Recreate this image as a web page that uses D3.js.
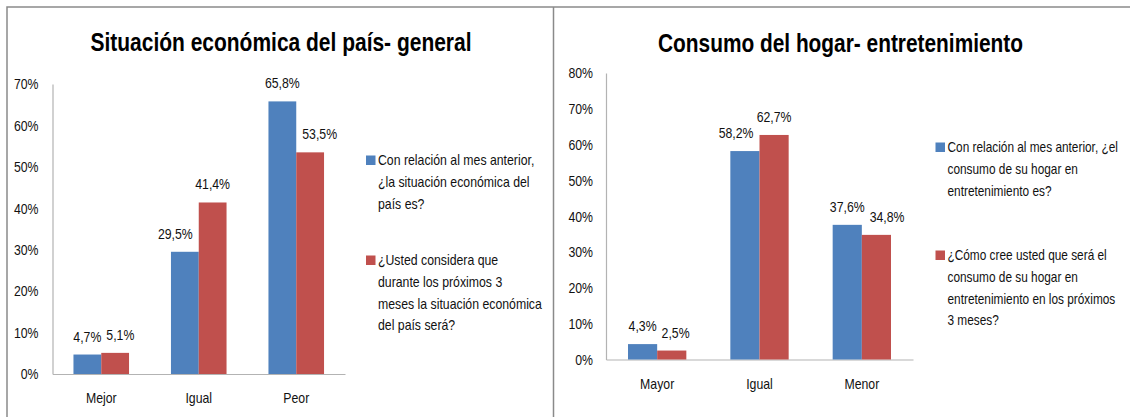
<!DOCTYPE html>
<html>
<head>
<meta charset="utf-8">
<script src="https://cdn.jsdelivr.net/npm/d3@7"></script>
<style>
  body { margin: 0; background: #fff; }
  svg text { font-family: "Liberation Sans", Arial, sans-serif; fill: #111; }
</style>
</head>
<body>
<svg id="chart" width="1130" height="417"></svg>
<script>
// datos - grafico izquierdo
var leftCategories = ['Mejor', 'Igual', 'Peor'];
var leftMesAnterior = [4.7, 29.5, 65.8];
var leftProximos = [5.1, 41.4, 53.5];
var leftTicks = [0, 10, 20, 30, 40, 50, 60, 70];
var leftLegend = [
    ['Con relación al mes anterior,', '¿la situación económica del', 'país es?'],
    ['¿Usted considera que', 'durante los próximos 3', 'meses la situación económica', 'del país será?']
];

// datos - grafico derecho
var rightCategories = ['Mayor', 'Igual', 'Menor'];
var rightMesAnterior = [4.3, 58.2, 37.6];
var rightProximos = [2.5, 62.7, 34.8];
var rightTicks = [0, 10, 20, 30, 40, 50, 60, 70, 80];
var rightLegend = [
    ['Con relación al mes anterior, ¿el', 'consumo de su hogar en', 'entretenimiento es?'],
    ['¿Cómo cree usted que será el', 'consumo de su hogar en', 'entretenimiento en los próximos', '3 meses?']
];

var colors = ['#4F81BD', '#C0504D'];

var es = d3.formatLocale({ decimal: ',', thousands: '.', grouping: [3], currency: ['', '€'] });
var fmtVal = function (v) { return es.format('.1f')(v) + '%'; };
var fmtTick = function (v) { return v + '%'; };

// el texto original es estrecho (tipo Calibri), se comprime en horizontal
var SQUEEZE = 0.83;
var FONT = '14.8px';
function squeeze(sel, k) {
    sel.each(function () {
        var w = this.getComputedTextLength();
        d3.select(this)
            .attr('textLength', w * (k || SQUEEZE))
            .attr('lengthAdjust', 'spacingAndGlyphs');
    });
}

var svg = d3.select('#chart');

// marcos
svg.append('path')
    .attr('d', 'M7,417V7H1130M553.5,7V417')
    .attr('fill', 'none')
    .attr('stroke', '#8a8a8a')
    .attr('stroke-width', 1.5);

function drawChart(cfg) {
    var g = svg.append('g');

    var x = d3.scaleBand()
        .domain(cfg.categories)
        .range([cfg.left, cfg.right])
        .paddingInner(0.43)
        .paddingOuter(0.215);

    var xs = d3.scaleBand()
        .domain([0, 1])
        .range([0, x.bandwidth()]);

    var y = d3.scaleLinear()
        .domain([0, cfg.max])
        .range([cfg.bottom, cfg.top]);

    // titulo
    g.append('text')
        .attr('x', cfg.titleX)
        .attr('y', cfg.titleY)
        .attr('text-anchor', 'middle')
        .attr('textLength', cfg.titleWidth)
        .attr('lengthAdjust', 'spacingAndGlyphs')
        .style('font-size', '25px')
        .style('font-weight', 'bold')
        .style('fill', '#000')
        .text(cfg.title);

    // eje y
    var yAxis = g.append('g')
        .attr('transform', 'translate(' + cfg.left + ',0)')
        .call(d3.axisLeft(y)
            .tickValues(cfg.ticks)
            .tickFormat(fmtTick)
            .tickSize(0)
            .tickPadding(cfg.tickPad));
    yAxis.select('.domain').attr('stroke', '#b3b3b3').attr('stroke-width', 1.2);
    yAxis.selectAll('text').style('font-size', FONT);

    // eje x
    var xAxis = g.append('g')
        .attr('transform', 'translate(0,' + cfg.bottom + ')')
        .call(d3.axisBottom(x).tickSize(0).tickSizeOuter(0));
    xAxis.select('.domain').attr('stroke', '#b3b3b3').attr('stroke-width', 1.2);
    xAxis.selectAll('text')
        .attr('y', 29)
        .attr('dy', null)
        .style('font-size', FONT);
    g.selectAll('.tick text').attr('fill', null);
    g.selectAll('g').attr('font-family', null).attr('font-size', null);
    squeeze(g.selectAll('.tick text'));

    // barras
    var rows = [];
    cfg.categories.forEach(function (c, i) {
        cfg.series.forEach(function (s, j) {
            rows.push({ cat: c, s: j, v: s[i], i: i });
        });
    });

    g.selectAll('rect.bar')
        .data(rows)
        .enter()
        .append('rect')
        .attr('class', 'bar')
        .attr('x', function (d) { return x(d.cat) + xs(d.s); })
        .attr('y', function (d) { return y(d.v); })
        .attr('width', xs.bandwidth())
        .attr('height', function (d) { return y(0) - y(d.v); })
        .attr('fill', function (d) { return colors[d.s]; });

    // etiquetas de valor
    var labels = g.selectAll('text.val')
        .data(rows)
        .enter()
        .append('text')
        .attr('class', 'val')
        .attr('text-anchor', 'middle')
        .style('font-size', FONT)
        .text(function (d) { return fmtVal(d.v); });
    squeeze(labels);

    labels.each(function (d) {
        d.w = +this.getAttribute('textLength');
        d.cx = x(d.cat) + xs(d.s) + xs.bandwidth() / 2;
        d.cy = y(d.v) - 18;
    });

    // evitar que la etiqueta tape la barra vecina mas alta
    rows.forEach(function (d) {
        var other = rows.find(function (o) { return o.i === d.i && o.s !== d.s; });
        if (y(other.v) < d.cy + 7) {
            var edge = x(d.cat) + xs(1);
            if (d.s === 0) {
                var over = d.cx + d.w / 2 - edge;
                if (over > -6) d.cx -= over + 6;
            } else {
                var over2 = edge - (d.cx - d.w / 2);
                if (over2 > -6) d.cx += over2 + 6;
            }
        }
    });
    // etiquetas que se tocan entre si
    rows.forEach(function (d) {
        if (d.s !== 1) return;
        var a = rows.find(function (o) { return o.i === d.i && o.s === 0; });
        if (Math.abs(a.cy - d.cy) < 14) {
            var gap = (d.cx - d.w / 2) - (a.cx + a.w / 2);
            if (gap < 5) d.cx += 5 - gap;
        }
    });

    labels
        .attr('x', function (d) { return d.cx; })
        .attr('y', function (d) { return d.cy + 5; });

    // leyenda
    cfg.legend.forEach(function (lines, j) {
        var ly = cfg.legendY[j];
        g.append('rect')
            .attr('x', cfg.legendX)
            .attr('y', ly - 4.5)
            .attr('width', 9.5)
            .attr('height', 9.5)
            .attr('fill', colors[j]);
        lines.forEach(function (ln, k) {
            g.append('text')
                .attr('class', 'leg')
                .attr('x', cfg.legendX + 12)
                .attr('y', ly + 5.3 + k * 21.7)
                .style('font-size', FONT)
                .text(ln);
        });
    });
    squeeze(g.selectAll('text.leg'), cfg.legendSqueeze);
}

drawChart({
    categories: leftCategories,
    series: [leftMesAnterior, leftProximos],
    ticks: leftTicks,
    legend: leftLegend,
    max: 70,
    left: 52.5,
    right: 345,
    top: 84,
    bottom: 374,
    tickPad: 14,
    title: 'Situación económica del país- general',
    titleX: 281,
    titleY: 51,
    titleWidth: 381,
    legendX: 366,
    legendY: [160, 260],
    legendSqueeze: 0.83
});

drawChart({
    categories: rightCategories,
    series: [rightMesAnterior, rightProximos],
    ticks: rightTicks,
    legend: rightLegend,
    max: 80,
    left: 606,
    right: 913,
    top: 73,
    bottom: 359.5,
    tickPad: 13,
    title: 'Consumo del hogar- entretenimiento',
    titleX: 840.5,
    titleY: 52,
    titleWidth: 365,
    legendX: 935.5,
    legendY: [147, 255],
    legendSqueeze: 0.8
});
</script>
</body>
</html>
